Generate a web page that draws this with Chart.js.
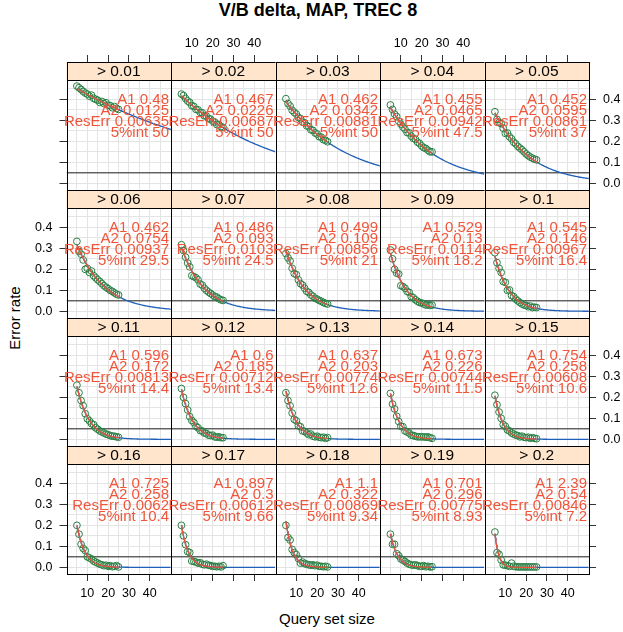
<!DOCTYPE html>
<html><head><meta charset="utf-8">
<script src="https://cdn.jsdelivr.net/npm/chart.js@4/dist/chart.umd.min.js"></script>
<style>
html,body{margin:0;padding:0;background:#fff;}
#wrap{position:relative;width:623px;height:632px;overflow:hidden;background:#fff;}
canvas{position:absolute;left:0;top:0;}
.lbl{position:absolute;font-family:"Liberation Sans",Arial,sans-serif;color:#000;white-space:nowrap;text-align:center;}
</style></head><body><div id="wrap">
<div class="lbl" id="title" style="left:168px;top:0px;width:300px;font-size:18px;line-height:20px;font-weight:bold;">V/B delta, MAP, TREC 8</div>
<div class="lbl" id="xlab" style="left:227px;top:610px;width:200px;font-size:15px;line-height:18px;">Query set size</div>
<div class="lbl" id="ylab" style="left:-85px;top:309px;width:200px;font-size:15px;line-height:18px;transform:rotate(-90deg);">Error rate</div>
</div>
<script>
// ---------------- data ----------------
const thresholds = ['> 0.01','> 0.02','> 0.03','> 0.04','> 0.05','> 0.06','> 0.07','> 0.08','> 0.09','> 0.1',
                    '> 0.11','> 0.12','> 0.13','> 0.14','> 0.15','> 0.16','> 0.17','> 0.18','> 0.19','> 0.2'];
const querySize = [5,6,7,8,9,10,11,12,13,14,15,16,17,18,19,20,21,22,23,24,25];

const errGT001 = [0.463,0.455,0.447,0.438,0.430,0.425,0.415,0.420,0.405,0.400,0.396,0.385,0.390,0.380,0.384,0.372,0.370,0.360,0.366,0.357,0.352];
const errGT002 = [0.425,0.418,0.404,0.392,0.385,0.370,0.366,0.352,0.350,0.338,0.336,0.322,0.320,0.308,0.306,0.296,0.292,0.280,0.280,0.270,0.266];
const errGT003 = [0.403,0.380,0.368,0.348,0.338,0.330,0.314,0.308,0.292,0.288,0.274,0.270,0.255,0.252,0.240,0.235,0.222,0.220,0.208,0.205,0.198];
const errGT004 = [0.373,0.352,0.330,0.318,0.296,0.282,0.268,0.258,0.242,0.240,0.225,0.214,0.210,0.196,0.190,0.178,0.170,0.166,0.158,0.150,0.150];
const errGT005 = [0.341,0.305,0.290,0.284,0.262,0.238,0.240,0.222,0.212,0.196,0.188,0.176,0.168,0.160,0.150,0.140,0.132,0.125,0.120,0.115,0.112];
const errGT006 = [0.333,0.285,0.272,0.245,0.200,0.205,0.185,0.192,0.170,0.160,0.150,0.142,0.132,0.122,0.115,0.108,0.100,0.095,0.088,0.082,0.078];
const errGT007 = [0.317,0.290,0.258,0.230,0.212,0.170,0.165,0.160,0.150,0.130,0.125,0.110,0.100,0.092,0.085,0.078,0.070,0.068,0.060,0.055,0.052];
const errGT008 = [0.275,0.255,0.240,0.205,0.180,0.175,0.150,0.132,0.125,0.110,0.095,0.090,0.078,0.072,0.062,0.058,0.052,0.048,0.042,0.038,0.035];
const errGT009 = [0.292,0.250,0.200,0.182,0.178,0.122,0.118,0.110,0.095,0.090,0.070,0.065,0.055,0.048,0.042,0.040,0.035,0.030,0.032,0.028,0.030];
const errGT010 = [0.279,0.232,0.205,0.185,0.142,0.138,0.100,0.102,0.075,0.070,0.058,0.050,0.042,0.035,0.030,0.028,0.022,0.025,0.018,0.020,0.018];
const errGT011 = [0.258,0.222,0.185,0.160,0.122,0.098,0.088,0.075,0.070,0.055,0.048,0.040,0.035,0.030,0.025,0.022,0.018,0.015,0.015,0.012,0.010];
const errGT012 = [0.242,0.200,0.170,0.140,0.108,0.090,0.080,0.062,0.055,0.042,0.040,0.030,0.028,0.020,0.018,0.020,0.012,0.010,0.012,0.008,0.008];
const errGT013 = [0.222,0.185,0.160,0.125,0.095,0.088,0.065,0.060,0.040,0.038,0.030,0.022,0.025,0.015,0.012,0.015,0.010,0.008,0.010,0.005,0.008];
const errGT014 = [0.219,0.168,0.145,0.110,0.085,0.062,0.060,0.040,0.035,0.030,0.020,0.018,0.015,0.012,0.012,0.012,0.012,0.010,0.012,0.008,0.005];
const errGT015 = [0.210,0.165,0.130,0.100,0.070,0.062,0.045,0.040,0.030,0.025,0.020,0.018,0.012,0.015,0.010,0.008,0.010,0.005,0.008,0.005,0.003];
const errGT016 = [0.200,0.158,0.110,0.090,0.080,0.050,0.045,0.040,0.030,0.025,0.020,0.015,0.012,0.008,0.010,0.005,0.008,0.003,0.005,0.008,0.002];
const errGT017 = [0.200,0.150,0.108,0.075,0.070,0.030,0.028,0.025,0.020,0.022,0.015,0.012,0.015,0.010,0.008,0.005,0.005,0.003,0.005,0.002,0.008];
const errGT018 = [0.200,0.142,0.130,0.085,0.070,0.060,0.042,0.020,0.025,0.018,0.015,0.012,0.010,0.012,0.008,0.010,0.005,0.005,0.003,0.005,0.002];
const errGT019 = [0.158,0.110,0.110,0.065,0.055,0.040,0.035,0.028,0.020,0.015,0.012,0.010,0.012,0.008,0.005,0.005,0.008,0.003,0.005,0.002,0.003];
const errGT020 = [0.168,0.070,0.062,0.035,0.012,0.010,0.008,0.005,0.020,0.005,0.003,0.002,0.002,0.002,0.002,0.002,0.002,0.002,0.002,0.002,0.002];

const fitA1 = [0.48,0.467,0.462,0.455,0.452,0.462,0.486,0.499,0.529,0.545,0.596,0.6,0.637,0.673,0.754,0.725,0.897,1.1,0.701,2.39];
const fitA2 = [0.0125,0.0226,0.0342,0.0465,0.0595,0.0754,0.093,0.109,0.13,0.146,0.172,0.185,0.203,0.226,0.258,0.258,0.3,0.322,0.296,0.54];
const resErr = ['0.00635','0.00687','0.00881','0.00942','0.00861','0.00937','0.0103','0.00856','0.0114','0.00967',
                '0.00813','0.00712','0.00774','0.00744','0.00608','0.0062','0.00612','0.00869','0.00775','0.00846'];
const int5 = ['50','50','50','47.5','37','29.5','24.5','21','18.2','16.4','14.4','13.4','12.6','11.5','10.6','10.4','9.66','9.34','8.93','7.2'];
const refLevel = 0.05;
const xTickVals = [10,20,30,40];
const yTickVals = [0,0.1,0.2,0.3,0.4];

const errSeries = [errGT001,errGT002,errGT003,errGT004,errGT005,errGT006,errGT007,errGT008,errGT009,errGT010,
                   errGT011,errGT012,errGT013,errGT014,errGT015,errGT016,errGT017,errGT018,errGT019,errGT020];

// ---------------- layout ----------------
const CW = 623, CH = 632;
const L0 = 66.5, PW = 104.5, T0 = 62, RH = 128, STRIP = 18;
const X_MIN = 0, X_MAX = 50.2;
const Y_MIN = -0.0317, Y_PLOT_MAX = 0.4921;
const Y_MAX = Y_PLOT_MAX + STRIP * (Y_PLOT_MAX - Y_MIN) / (RH - STRIP);
const xGrid = [5,10,15,20,25,30,35,40,45];
const yGrid = [0,0.05,0.1,0.15,0.2,0.25,0.3,0.35,0.4,0.45];
const FONT = '"Liberation Sans", Arial, sans-serif';
const AX_TOP = 45, AX_BOTTOM = 45, AX_LEFT = 60, AX_RIGHT = 34;
const isIn = (v, arr) => arr.some(a => Math.abs(a - v) < 1e-9);

const panelPlugin = {
  id: 'panel',
  beforeDatasetsDraw(chart, args, o) {
    const {ctx, chartArea: a} = chart;
    ctx.save();
    ctx.fillStyle = '#ffe5cc';
    ctx.fillRect(a.left, a.top, a.right - a.left, STRIP);
    ctx.restore();
  },
  afterDatasetsDraw(chart, args, o) {
    const {ctx, chartArea: a} = chart;
    ctx.save();
    ctx.strokeStyle = '#000'; ctx.lineWidth = 1;
    const l = Math.round(a.left) + 0.5, r = Math.round(a.right) + 0.5;
    const t = Math.round(a.top) + 0.5, b = Math.round(a.bottom) + 0.5;
    ctx.strokeRect(l, t, r - l, b - t);
    ctx.beginPath(); ctx.moveTo(l, t + STRIP); ctx.lineTo(r, t + STRIP); ctx.stroke();
    ctx.fillStyle = '#000';
    ctx.font = '15.5px ' + FONT;
    ctx.textAlign = 'center'; ctx.textBaseline = 'middle';
    ctx.fillText(o.label, (a.left + a.right) / 2, a.top + STRIP / 2 + 1);
    ctx.fillStyle = '#f0553a';
    ctx.font = '15px ' + FONT;
    ctx.textAlign = 'right';
    o.lines.forEach((s, k) => ctx.fillText(s, a.right - 2, a.top + STRIP + 19.5 + 11 * k));
    ctx.restore();
  }
};

const wrap = document.getElementById('wrap');
for (let i = 0; i < 20; i++) {
  const r = Math.floor(i / 5), c = i % 5;
  const left = L0 + c * PW, right = left + PW;
  const top = T0 + r * RH, bottom = top + RH;
  const xPos = r === 0 ? 'top' : 'bottom';
  const xTicks = r === 0 || r === 3;
  const xLabels = (r === 0 && (c === 1 || c === 3)) || (r === 3 && (c === 0 || c === 2 || c === 4));
  const yPos = c === 4 ? 'right' : 'left';
  const yTicks = c === 0 || c === 4;
  const yLabels = (c === 4 && (r === 0 || r === 2)) || (c === 0 && (r === 1 || r === 3));
  const xSize = xTicks ? (xPos === 'top' ? AX_TOP : AX_BOTTOM) : 0;
  const ySize = yTicks ? (yPos === 'left' ? AX_LEFT : AX_RIGHT) : 0;

  const A1 = fitA1[i], A2 = fitA2[i];
  const xs = querySize;
  const xFirst = xs[0], xLast = xs[xs.length - 1];
  const curve = (from, to) => { const pts = []; for (let x = from; x <= to + 1e-9; x += 0.25) pts.push({x, y: A1 * Math.exp(-A2 * x)}); return pts; };

  const cv = document.createElement('canvas');
  cv.width = CW; cv.height = CH;
  wrap.appendChild(cv);

  new Chart(cv, {
    type: 'scatter',
    data: { datasets: [
      { data: [{x: X_MIN, y: refLevel}, {x: X_MAX, y: refLevel}], showLine: true, borderColor: '#222', borderWidth: 1, pointRadius: 0, order: 5 },
      { data: curve(xFirst, X_MAX), showLine: true, borderColor: '#1f5fb8', borderWidth: 1.3, pointRadius: 0, order: 4 },
      { data: xs.map((x, k) => ({x, y: errSeries[i][k]})), showLine: false, pointStyle: 'circle', pointRadius: 3.4,
        pointBorderWidth: 1, borderColor: '#2a7f45', backgroundColor: 'rgba(0,0,0,0)', order: 3 },
      { data: curve(xFirst, xLast), showLine: true, borderColor: '#f0553a', borderWidth: 1.2, pointRadius: 0, order: 2 }
    ]},
    options: {
      responsive: false, animation: false, devicePixelRatio: 1, events: [],
      layout: { padding: {
        left: left - (yPos === 'left' ? ySize : 0),
        right: CW - right - (yPos === 'right' ? ySize : 0),
        top: top - (xPos === 'top' ? xSize : 0),
        bottom: CH - bottom - (xPos === 'bottom' ? xSize : 0) } },
      plugins: { legend: {display: false}, tooltip: {enabled: false},
        panel: { label: thresholds[i], lines: ['A1 ' + A1, 'A2 ' + A2, 'ResErr ' + resErr[i], '5%int ' + int5[i]] } },
      scales: {
        x: { type: 'linear', position: xPos, min: X_MIN, max: X_MAX,
          afterFit: s => { s.height = xSize; },
          afterBuildTicks: s => { s.ticks = xGrid.map(v => ({value: v})); },
          grid: { color: '#e4e4e4', lineWidth: 1, drawTicks: xTicks, tickLength: 7, tickWidth: 1,
                  tickColor: ctx => (ctx.tick && isIn(ctx.tick.value, xTickVals)) ? '#333' : 'rgba(0,0,0,0)' },
          border: { display: false },
          ticks: { display: xTicks, autoSkip: false, maxRotation: 0, minRotation: 0, padding: xPos === 'top' ? 4 : 5, color: '#000',
                   font: { family: FONT, size: 12.5 },
                   callback: v => (xLabels && isIn(v, xTickVals)) ? String(v) : '' } },
        y: { type: 'linear', position: yPos, min: Y_MIN, max: Y_MAX,
          afterFit: s => { s.width = ySize; },
          afterBuildTicks: s => { s.ticks = yGrid.map(v => ({value: v})); },
          grid: { color: '#e4e4e4', lineWidth: 1, drawTicks: yTicks, tickLength: 7, tickWidth: 1,
                  tickColor: ctx => (ctx.tick && isIn(ctx.tick.value, yTickVals)) ? '#333' : 'rgba(0,0,0,0)' },
          border: { display: false },
          ticks: { display: yTicks, autoSkip: false, padding: 7, color: '#000',
                   font: { family: FONT, size: 12.5 },
                   callback: v => (yLabels && isIn(v, yTickVals)) ? v.toFixed(1) : '' } }
      }
    },
    plugins: [panelPlugin]
  });
}
</script>
</body></html>
